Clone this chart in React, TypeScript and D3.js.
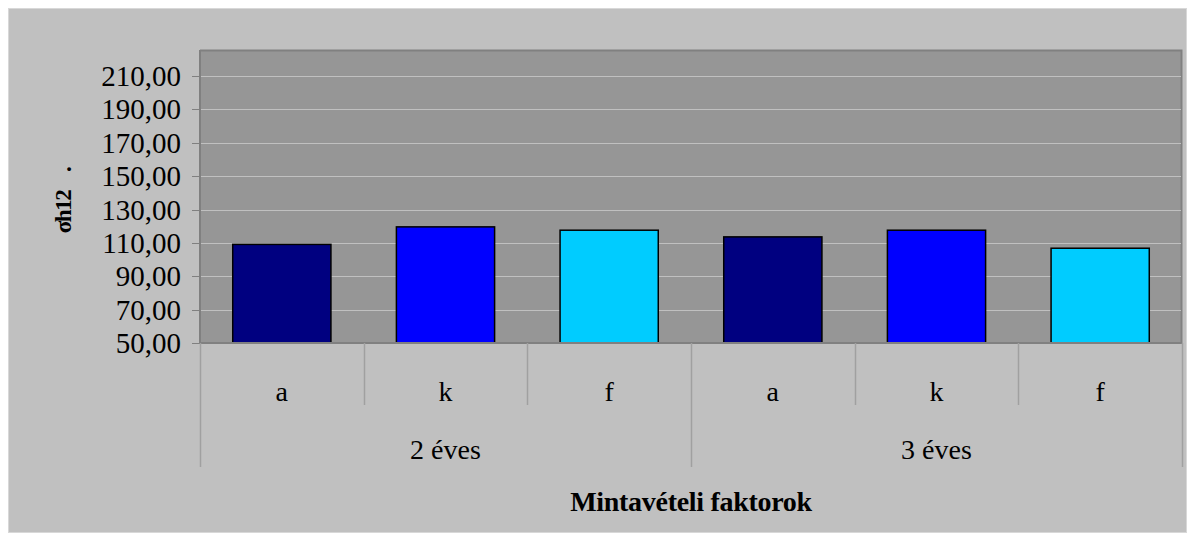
import React from 'react';
import * as d3 from 'd3';

const groups = ['2 éves', '3 éves'];
const factors = ['a', 'k', 'f'];
const values = [109.1, 119.6, 117.6, 113.6, 117.6, 106.8];
const yTicks = [50, 70, 90, 110, 130, 150, 170, 190, 210];
const barColors = ['#000080', '#0000FF', '#00CCFF'];

const W = 1179;
const H = 525;
// plot area, in svg coords (svg sits at 8,8 on the page)
const left = 192;
const right = 1174;
const top = 42;
const bottom = 335;
const FONT = 'Liberation Serif';

const cats = d3.range(values.length).map(String);
const x = d3.scaleBand<string>().domain(cats).range([left, right]).paddingInner(0.4).paddingOuter(0.2);
const xCell = d3.scaleBand<string>().domain(cats).range([left, right]);
const y = d3.scaleLinear().domain([50, 225.6]).range([bottom, top]);
const fmt = (v: number) => d3.format('.2f')(v).replace('.', ',');

const App: React.FC = () => {
  const sepX = (i: number) => Math.round(i < values.length ? (xCell(String(i)) || 0) : right) + 0.5;

  return (
    <div style={{ width: W, height: H }}>
      <svg width={W} height={H} style={{ display: 'block' }} fontFamily={FONT}>
        {/* chart background */}
        <rect x={0.5} y={0.5} width={W - 1} height={H - 1} fill="#c0c0c0" stroke="#d8d8d8" />

        {/* plot area */}
        <rect x={left} y={top} width={right - left} height={bottom - top} fill="#969696" />
        <path d={`M${left},${top + 0.5}H${right - 0.5}V${bottom}`} fill="none" stroke="#808080" strokeWidth={2} />

        {/* gridlines */}
        {yTicks.slice(1).map(t => (
          <line key={t} x1={left} x2={right - 1} y1={Math.round(y(t)) + 0.5} y2={Math.round(y(t)) + 0.5}
            stroke="#c0c0c0" strokeWidth={1} />
        ))}

        {/* bars */}
        {values.map((v, i) => (
          <rect key={i} x={x(String(i))} y={y(v)} width={x.bandwidth()} height={y(50) - y(v)}
            fill={barColors[i % 3]} stroke="#000" strokeWidth={1.5} />
        ))}

        {/* y axis */}
        <line x1={left} x2={left} y1={top} y2={bottom} stroke="#808080" strokeWidth={2} />
        {yTicks.map(t => (
          <g key={t} transform={`translate(0,${Math.round(y(t)) + 0.5})`}>
            <line x1={left - 8} x2={left} stroke="#808080" strokeWidth={1} />
            <text x={left - 19} dy="0.34em" textAnchor="end" fontSize={29} fill="#000">{fmt(t)}</text>
          </g>
        ))}

        {/* x axis baseline */}
        <line x1={left} x2={right} y1={bottom} y2={bottom} stroke="#808080" strokeWidth={2} />

        {/* category separators */}
        {d3.range(values.length + 1).map(i => (
          <line key={i} x1={sepX(i)} x2={sepX(i)} y1={bottom} y2={i % 3 === 0 ? 459 : 397}
            stroke="#a0a0a0" strokeWidth={1.5} />
        ))}

        {/* factor labels */}
        {values.map((_, i) => (
          <text key={i} x={(xCell(String(i)) || 0) + xCell.bandwidth() / 2} y={393}
            textAnchor="middle" fontSize={28}>{factors[i % 3]}</text>
        ))}

        {/* group labels */}
        {groups.map((g, gi) => (
          <text key={g} x={(xCell(String(gi * 3)) || 0) + xCell.bandwidth() * 1.5} y={451}
            textAnchor="middle" fontSize={28}>{g}</text>
        ))}

        {/* axis titles */}
        <text x={(left + right) / 2} y={503} textAnchor="middle" fontSize={28} fontWeight="bold"
          letterSpacing={-0.3}>Mintavételi faktorok</text>

        <g transform="translate(63,204) rotate(-90)">
          <text textAnchor="middle" fontSize={23} fontWeight="bold" letterSpacing={-1.5}>σh12</text>
          <text x={40} fontSize={23} fontWeight="bold">.</text>
        </g>
      </svg>
    </div>
  );
};

export default App;
